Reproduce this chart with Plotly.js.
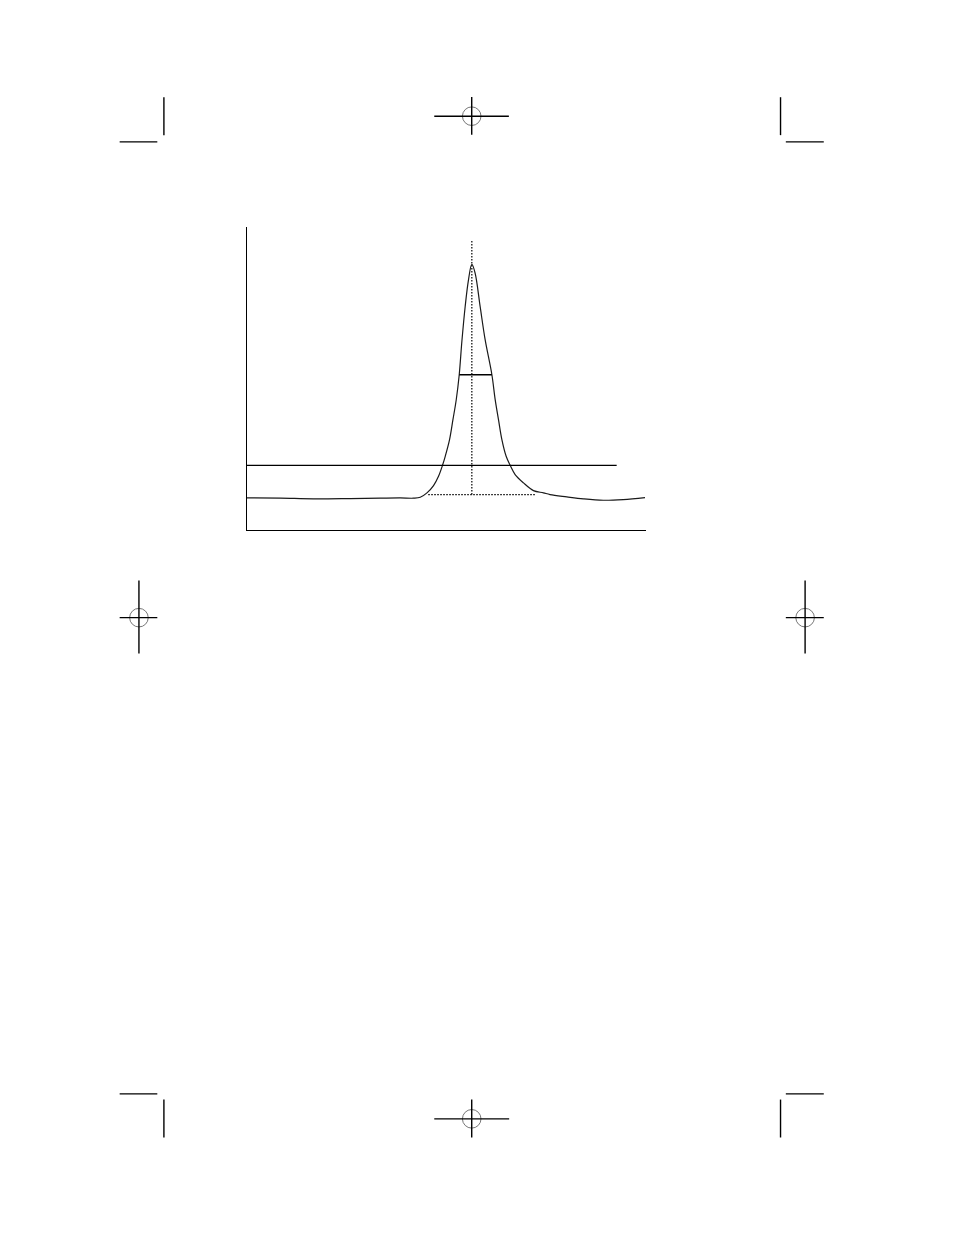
<!DOCTYPE html>
<html>
<head>
<meta charset="utf-8">
<script src="https://cdn.plot.ly/plotly-3.0.1.min.js"></script>
<style>
  html, body { margin: 0; padding: 0; background: #fff; }
  #chart { width: 954px; height: 1235px; }
</style>
</head>
<body>
<div id="chart"></div>
<script>
// chromatogram trace (time in min, signal in %)
const time = [0, 1.68, 3.33, 5.18, 6.68, 7.68, 8.35, 8.685, 9.02, 9.35, 9.6, 9.8, 9.937, 10.153, 10.323, 10.488, 10.638, 10.77, 10.935, 11.1, 11.27,
    11.437, 11.687, 11.937, 12.275, 12.44, 12.606, 12.776, 12.99, 13.19, 13.44, 13.857, 14.358, 14.858, 15.19, 16.03, 16.86, 17.86, 18.86, 19.95];
const signal = [10.61, 10.51, 10.28, 10.38, 10.51, 10.58, 10.5, 10.81, 12.26, 14.66, 17.73, 21.35, 24.32, 29.82, 36.41, 43.0, 51.24, 62.2, 73.7, 82.5, 87.7,
    84.7, 73.7, 62.8, 51.24, 43.0, 36.41, 29.82, 24.32, 21.35, 18.29, 15.55, 13.0, 12.26, 11.7, 10.94, 10.28, 9.82, 10.05, 10.71];

// reference levels
const thresholdLevel = 21.35;
const thresholdEnd = 18.53;
const halfHeight = 51.24;
const halfWidthX = [10.638, 12.275];
const peakBase = 11.7;
const peakBaseX = [9.086, 14.45];
const markerTop = 95.5;

// find the apex from the data
let apex = 0;
signal.forEach((v, i) => { if (v > signal[apex]) apex = i; });
const apexTime = time[apex];

// plot box on the page (px)
const L = 246.5, R = 646, T = 227, B = 530.5;
const W = R - L, H = B - T;
const px = (x) => (x - L) / W;
const py = (y) => (B - y) / H;

const seg = (x0, y0, x1, y1, w) => ({
    type: 'line', xref: 'paper', yref: 'paper',
    x0: px(x0), y0: py(y0), x1: px(x1), y1: py(y1),
    line: {color: '#000', width: w || 1.4}
});

const regCircle = (cx, cy) => ({
    type: 'circle', xref: 'paper', yref: 'paper',
    x0: px(cx - 9.3), x1: px(cx + 9.3), y0: py(cy + 9.3), y1: py(cy - 9.3),
    line: {color: '#777', width: 1}
});

const cross = (cx, cy, hx0, hx1, vy0, vy1) => [
    regCircle(cx, cy),
    seg(hx0, cy, hx1, cy),
    seg(cx, vy0, cx, vy1)
];

// printer marks round the page
let marks = [];
marks.push(seg(163.3, 97, 163.3, 135), seg(119, 141.7, 156.7, 141.7));
marks.push(seg(780.7, 97, 780.7, 135), seg(786, 141.7, 824, 141.7));
marks.push(seg(163.3, 1101, 163.3, 1139), seg(119, 1095.3, 156.7, 1095.3));
marks.push(seg(780.7, 1101, 780.7, 1139), seg(786, 1095.3, 824, 1095.3));
marks.push(...cross(471.5, 116, 434, 508.7, 96.7, 134.5));
marks.push(...cross(471.5, 1120.3, 434, 509, 1101, 1139));
marks.push(...cross(138.3, 618.3, 119, 156.7, 581, 654.3));
marks.push(...cross(805.3, 618.3, 786, 824, 581, 654.3));

const dotted = {color: '#000', width: 1.2, dash: '1.5px,1.5px'};

const dataShapes = [
    {type: 'line', xref: 'x', yref: 'y', x0: 0, x1: thresholdEnd, y0: thresholdLevel, y1: thresholdLevel,
        line: {color: '#000', width: 1.3}},
    {type: 'line', xref: 'x', yref: 'y', x0: halfWidthX[0], x1: halfWidthX[1], y0: halfHeight, y1: halfHeight,
        line: {color: '#000', width: 1.3}},
    {type: 'line', xref: 'x', yref: 'y', x0: apexTime, x1: apexTime, y0: peakBase, y1: markerTop, line: dotted},
    {type: 'line', xref: 'x', yref: 'y', x0: peakBaseX[0], x1: peakBaseX[1], y0: peakBase, y1: peakBase, line: dotted}
];

const trace = [{
    x: time,
    y: signal,
    type: 'scatter',
    mode: 'lines',
    line: {color: '#1a1a1a', width: 1.2, shape: 'spline', smoothing: 1},
    hoverinfo: 'skip'
}];

const layout = {
    width: 954,
    height: 1235,
    margin: {l: L, r: 954 - R, t: T, b: 1235 - B, pad: 0},
    paper_bgcolor: '#fff',
    plot_bgcolor: '#fff',
    showlegend: false,
    xaxis: {range: [0, 20], showline: true, linecolor: '#000', linewidth: 1.4, showgrid: false,
        zeroline: false, showticklabels: false, ticks: '', fixedrange: true},
    yaxis: {range: [0, 100], showline: true, linecolor: '#000', linewidth: 1.4, showgrid: false,
        zeroline: false, showticklabels: false, ticks: '', fixedrange: true},
    shapes: dataShapes.concat(marks)
};

const plotConfig = {displayModeBar: false, staticPlot: true};
Plotly.newPlot(document.getElementById('chart'), trace, layout, plotConfig);
</script>
</body>
</html>
